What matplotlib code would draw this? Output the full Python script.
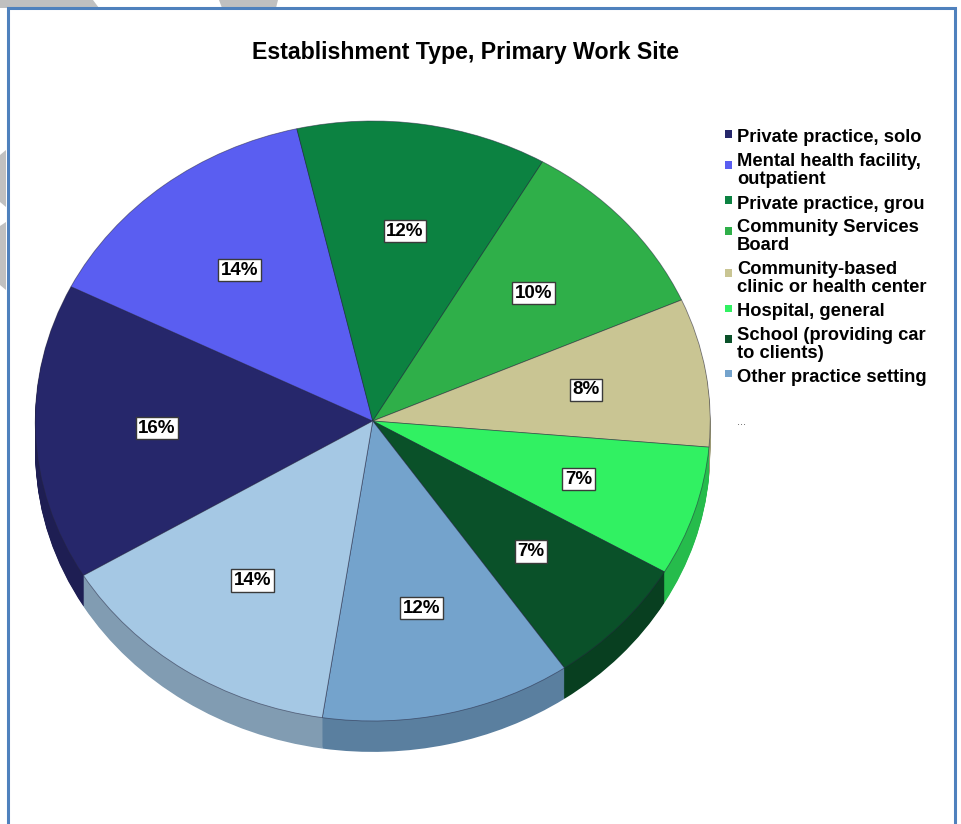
import matplotlib
matplotlib.use("Agg")
import matplotlib.pyplot as plt
from matplotlib.patches import Rectangle, Polygon
from matplotlib.colors import to_rgb

plt.rcParams['font.family'] = ['Liberation Sans', 'DejaVu Sans']

# establishment types, clockwise from the lower left
categories = [
    "Private practice, solo",
    "Mental health facility, outpatient",
    "Private practice, group",
    "Community Services Board",
    "Community-based clinic or health center",
    "Hospital, general",
    "School (providing care to clients)",
    "Other practice setting",
    "...",
]
legend_lines = [
    ["Private practice, solo"],
    ["Mental health facility,", "outpatient"],
    ["Private practice, grou"],
    ["Community Services", "Board"],
    ["Community-based", "clinic or health center"],
    ["Hospital, general"],
    ["School (providing car", "to clients)"],
    ["Other practice setting"],
]
percents = [16, 14, 12, 10, 8, 7, 7, 12, 14]
colors = ["#26276B", "#5A5EF1", "#0C8241", "#2FAF49", "#C9C593",
          "#31F162", "#0A5129", "#74A3CC", "#A5C8E4"]

W, H = 961, 824
fig = plt.figure(figsize=(W / 100, H / 100), dpi=100)


def px(x, y):
    return (x / W, 1 - y / H)


# grey background showing round the panel
for poly in [
    [(0, 0), (93, 0), (99, 8), (0, 8)],
    [(219, 0), (278, 0), (276, 8), (222, 8)],
    [(0, 155), (6, 150), (6, 207), (0, 202)],
    [(0, 226), (6, 222), (6, 290), (0, 285)],
]:
    fig.patches.append(Polygon([px(*p) for p in poly], closed=True, zorder=-3,
                               transform=fig.transFigure, fc="#C0C0C0", ec="none"))
fig.patches.append(Rectangle(px(8, 830), 947 / W, 822 / H, transform=fig.transFigure,
                             fc="white", ec="#4F81BD", lw=2.2, zorder=-2))

# pie: 1 unit = 337.5 px across, 300 px down (tilted disc)
ax = fig.add_axes([1.5 / W, 1 - 796 / H, 742.5 / W, 720 / H])
ax.patch.set_visible(False)
depth = 0.103
nlayers = 32
side_colors = [tuple(c * 0.78 for c in to_rgb(col)) for col in colors]
for k in range(nlayers, 0, -1):
    ax.pie(percents, colors=side_colors, startangle=211, counterclock=False,
           radius=1, center=(0, -depth * k / nlayers),
           wedgeprops=dict(linewidth=0))

wedges, texts, autotexts = ax.pie(
    percents, colors=colors, startangle=211, counterclock=False, radius=1,
    autopct=lambda p: f"{p:.0f}%", pctdistance=0.64,
    wedgeprops=dict(edgecolor=(0.15, 0.15, 0.25, 0.55), linewidth=0.6),
    textprops=dict(fontsize=13.5, color="black", fontweight="bold"))
for t in autotexts:
    t.set_bbox(dict(boxstyle="square,pad=0.14", fc="white", ec="#3A3A3A", lw=1.0))

ax.set_aspect("auto")
ax.set_xlim(-1.1, 1.1)
ax.set_ylim(-1.25, 1.15)
ax.axis("off")

fig.text(*px(466, 52), "Establishment Type, Primary Work Site", ha="center",
         va="center", fontsize=16.7, fontweight="bold")

# legend
y = 136
for lines, col in zip(legend_lines, colors):
    my = y - 2 if len(lines) == 1 else y + 5
    fig.patches.append(Rectangle(px(725, my + 3.5), 7 / W, 7 / H,
                                 transform=fig.transFigure, fc=col, ec="none"))
    for i, line in enumerate(lines):
        fig.text(*px(737, y + 18 * i + 6.5), line, ha="left", va="baseline",
                 fontsize=13.2, fontweight="bold")
    y += 18 * len(lines) + 6
fig.text(*px(737, 422), "...", ha="left", va="center", fontsize=8, color="#555555")

fig.savefig("out.png", dpi=100)
